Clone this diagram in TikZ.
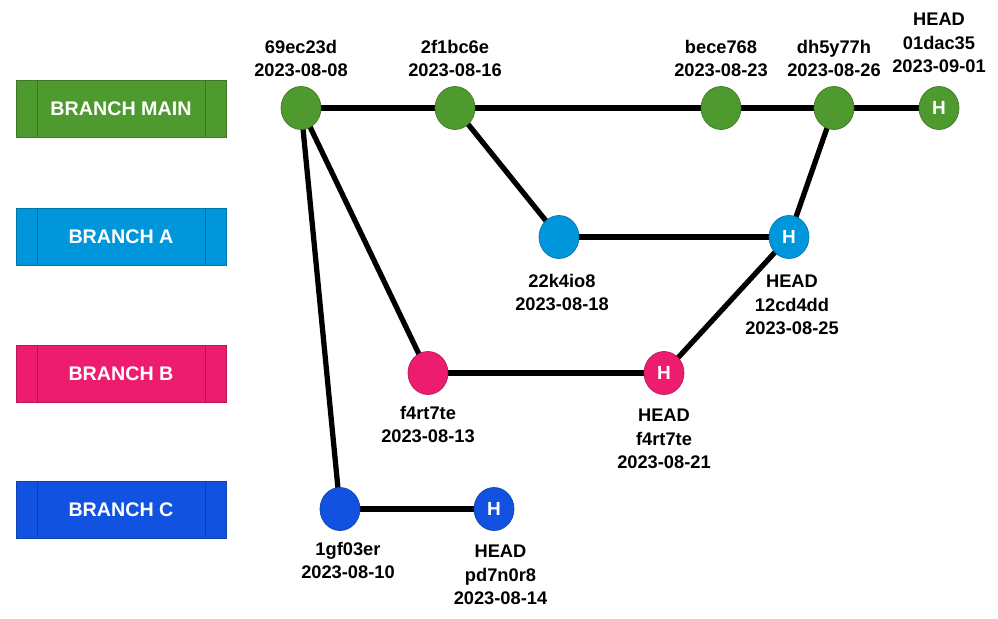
\documentclass[tikz,border=0pt]{standalone}
\usepackage{fontspec}
\setmainfont{Liberation Sans}
\usepackage{tikz}
\usetikzlibrary{positioning,shapes.geometric,backgrounds}
\definecolor{maingreen}{HTML}{4F9A2F}
\definecolor{bluea}{HTML}{0096DB}
\definecolor{pinkb}{HTML}{EE1C6E}
\definecolor{bluec}{HTML}{1153E0}

\begin{document}
\begin{tikzpicture}[x=0.02cm, y=-0.02cm,
commit/.style={ellipse, draw=#1!78!black, fill=#1, minimum width=0.8cm, minimum height=0.86cm, inner sep=0pt, text=white, font=\bfseries\fontsize{10.8}{12}\selectfont},
branch/.style={rectangle, draw=#1!78!black, fill=#1, minimum width=4.2cm, minimum height=1.14cm, text=white, font=\bfseries\fontsize{11.2}{12}\selectfont,
  path picture={\draw[#1!75!black] ([xshift=0.42cm]path picture bounding box.north west) -- ([xshift=0.42cm]path picture bounding box.south west)
    ([xshift=-0.42cm]path picture bounding box.north east) -- ([xshift=-0.42cm]path picture bounding box.south east);}},
info/.style={align=center, inner sep=0pt, font=\bfseries\fontsize{10.4}{13.4}\selectfont},
link/.style={line width=3pt}
]
\useasboundingbox (0,0) rectangle (998,619);
%Branches
\node[branch=maingreen] (bm) at (121,108.5) {BRANCH MAIN};
\node[branch=bluea]     (ba) at (121,237)   {BRANCH A};
\node[branch=pinkb]     (bb) at (121,373.5) {BRANCH B};
\node[branch=bluec]     (bc) at (121,509.5) {BRANCH C};
%Commits
\node[commit=maingreen] (m1) at (301,108) {};
\node[commit=maingreen] (m2) at (455,108) {};
\node[commit=maingreen] (m3) at (721,108) {};
\node[commit=maingreen] (m4) at (834,108) {};
\node[commit=maingreen] (m5) at (939,108) {H};
\node[commit=bluea]     (a1) at (559,237) {};
\node[commit=bluea]     (a2) at (789,237) {H};
\node[commit=pinkb]     (b1) at (428,373) {};
\node[commit=pinkb]     (b2) at (664,373) {H};
\node[commit=bluec]     (c1) at (340,509) {};
\node[commit=bluec]     (c2) at (494,509) {H};
%Labels
\node[info] (m1t) [above=0.18cm of m1] {69ec23d\\2023-08-08};
\node[info] (m2t) [above=0.18cm of m2] {2f1bc6e\\2023-08-16};
\node[info] (m3t) [above=0.18cm of m3] {bece768\\2023-08-23};
\node[info] (m4t) [above=0.18cm of m4] {dh5y77h\\2023-08-26};
\node[info] (m5t) [above=0.26cm of m5] {HEAD\\01dac35\\2023-09-01};
\node[info] (a1t) [below=0.30cm of a1, xshift=0.06cm] {22k4io8\\2023-08-18};
\node[info] (a2t) [below=0.32cm of a2, xshift=0.06cm] {HEAD\\12cd4dd\\2023-08-25};
\node[info] (b1t) [below=0.22cm of b1] {f4rt7te\\2023-08-13};
\node[info] (b2t) [below=0.28cm of b2] {HEAD\\f4rt7te\\2023-08-21};
\node[info] (c1t) [below=0.22cm of c1, xshift=0.16cm] {1gf03er\\2023-08-10};
\node[info] (c2t) [below=0.28cm of c2, xshift=0.13cm] {HEAD\\pd7n0r8\\2023-08-14};
%Lines
\begin{scope}[on background layer]
\draw[link] (m1.center) -- (m2.center);
\draw[link] (m2.center) -- (m3.center);
\draw[link] (m3.center) -- (m4.center);
\draw[link] (m4.center) -- (m5.center);
\draw[link] (m2.center) -- (a1.center);
\draw[link] (a1.center) -- (a2.center);
\draw[link] (a2.center) -- (m4.center);
\draw[link] (m1.center) -- (b1.center);
\draw[link] (b1.center) -- (b2.center);
\draw[link] (b2.center) -- (a2.center);
\draw[link] (m1.center) -- (c1.center);
\draw[link] (c1.center) -- (c2.center);
\end{scope}
\end{tikzpicture}
\end{document}
